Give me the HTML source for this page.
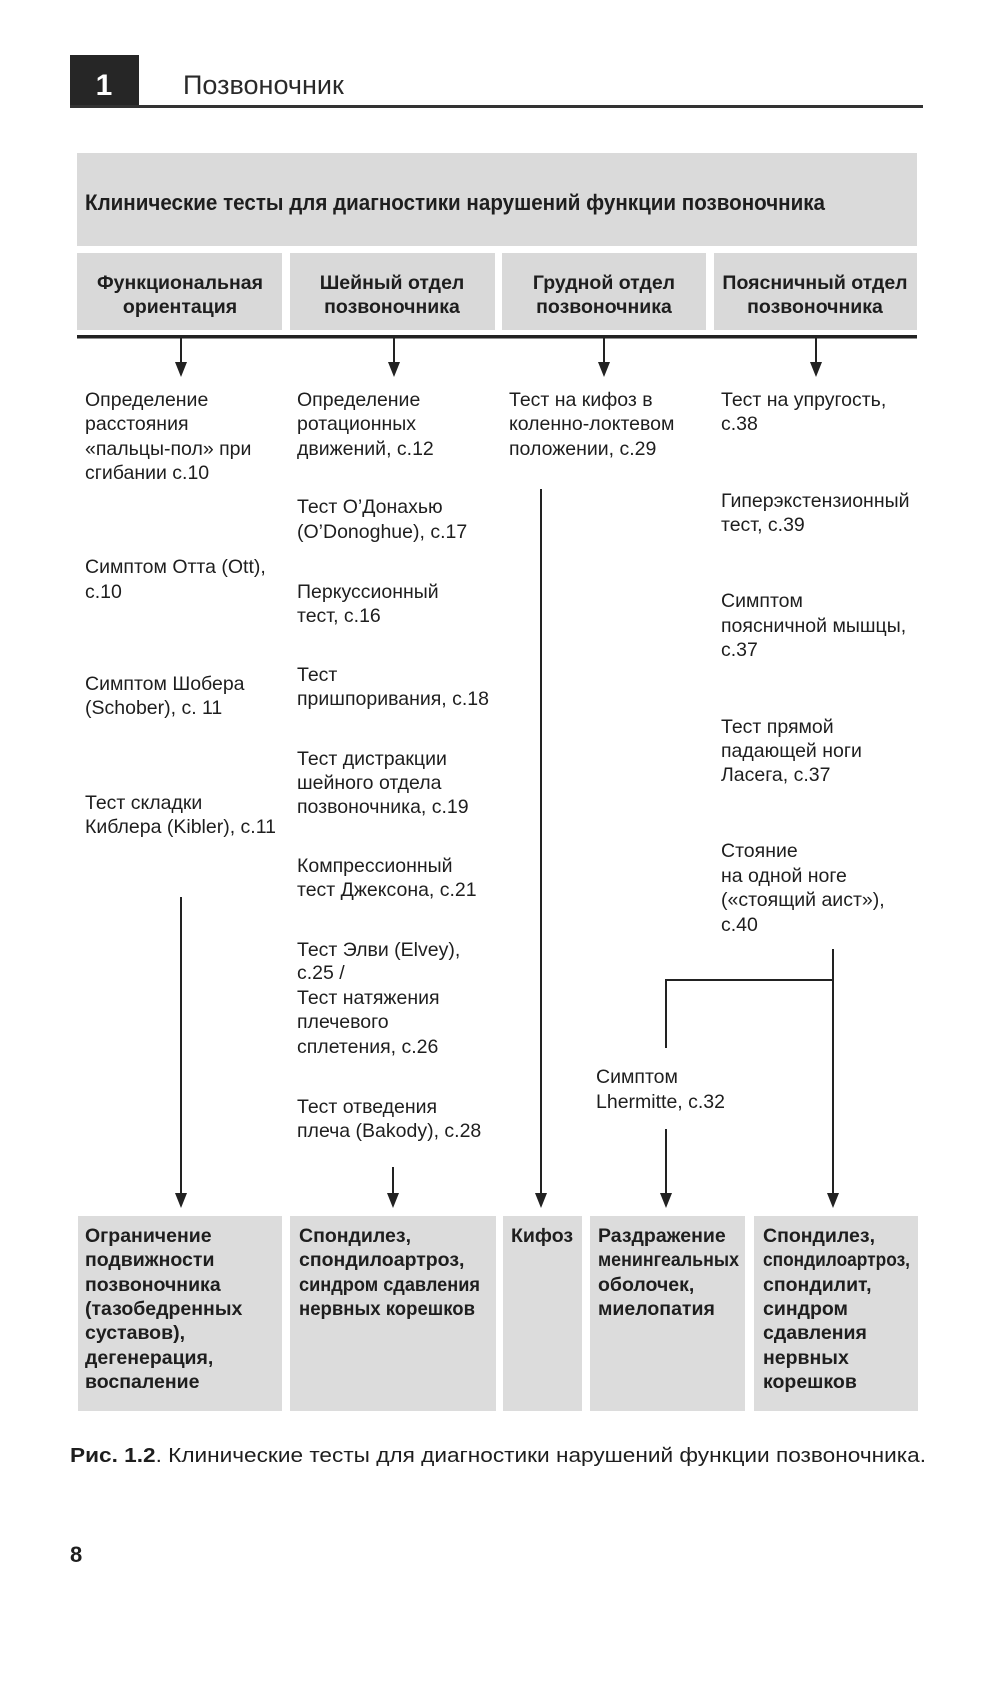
<!DOCTYPE html>
<html><head><meta charset="utf-8"><style>
html,body{margin:0;padding:0;background:#fff;}
svg{display:block;}
text{font-family:"Liberation Sans",sans-serif;fill:#1e1e1e;}
.r{font-size:19.5px;}
.b{font-size:19.5px;font-weight:bold;}
</style></head><body>
<svg width="1000" height="1691" viewBox="0 0 1000 1691" xmlns="http://www.w3.org/2000/svg">
<!-- header -->
<rect x="70" y="55" width="69" height="52" fill="#262626"/>
<text x="104" y="95" text-anchor="middle" style="font-size:30px;font-weight:bold;fill:#fff">1</text>
<text x="183" y="94" style="font-size:27px;fill:#2a2a2a">Позвоночник</text>
<rect x="70" y="105" width="853" height="3" fill="#333"/>

<!-- title band -->
<rect x="77" y="153" width="840" height="93" fill="#dadada"/>
<text x="85" y="210" class="b" style="font-size:22px" textLength="740" lengthAdjust="spacingAndGlyphs">Клинические тесты для диагностики нарушений функции позвоночника</text>

<!-- category boxes -->
<rect x="77" y="253" width="205" height="77" fill="#d9d9d9"/>
<rect x="290" y="253" width="205" height="77" fill="#d9d9d9"/>
<rect x="502" y="253" width="204" height="77" fill="#d9d9d9"/>
<rect x="714" y="253" width="203" height="77" fill="#d9d9d9"/>
<text x="180" y="289" class="b" text-anchor="middle">Функциональная</text>
<text x="180" y="313" class="b" text-anchor="middle">ориентация</text>
<text x="392" y="289" class="b" text-anchor="middle">Шейный отдел</text>
<text x="392" y="313" class="b" text-anchor="middle">позвоночника</text>
<text x="604" y="289" class="b" text-anchor="middle">Грудной отдел</text>
<text x="604" y="313" class="b" text-anchor="middle">позвоночника</text>
<text x="815" y="289" class="b" text-anchor="middle">Поясничный отдел</text>
<text x="815" y="313" class="b" text-anchor="middle">позвоночника</text>
<rect x="77" y="335" width="840" height="3.5" fill="#222"/>

<!-- connectors -->
<g stroke="#222" stroke-width="2" fill="none">
<line x1="181" y1="338" x2="181" y2="364"/>
<line x1="394" y1="338" x2="394" y2="364"/>
<line x1="604" y1="338" x2="604" y2="364"/>
<line x1="816" y1="338" x2="816" y2="364"/>
<line x1="181" y1="897" x2="181" y2="1196"/>
<line x1="393" y1="1167" x2="393" y2="1196"/>
<line x1="541" y1="489" x2="541" y2="1196"/>
<line x1="833" y1="949" x2="833" y2="1196"/>
<polyline points="833,980 666,980 666,1048"/>
<line x1="666" y1="1129" x2="666" y2="1196"/>
</g>
<g fill="#222">
<polygon points="175,362 187,362 181,377"/>
<polygon points="388,362 400,362 394,377"/>
<polygon points="598,362 610,362 604,377"/>
<polygon points="810,362 822,362 816,377"/>
<polygon points="175,1193 187,1193 181,1208"/>
<polygon points="387,1193 399,1193 393,1208"/>
<polygon points="535,1193 547,1193 541,1208"/>
<polygon points="660,1193 672,1193 666,1208"/>
<polygon points="827,1193 839,1193 833,1208"/>
</g>

<!-- column 1 -->
<g class="r">
<text x="85" y="406">Определение</text>
<text x="85" y="430">расстояния</text>
<text x="85" y="455">«пальцы-пол» при</text>
<text x="85" y="479">сгибании с.10</text>
<text x="85" y="573">Симптом Отта (Ott),</text>
<text x="85" y="598">с.10</text>
<text x="85" y="690">Симптом Шобера</text>
<text x="85" y="714">(Schober), с. 11</text>
<text x="85" y="809">Тест складки</text>
<text x="85" y="833">Киблера (Kibler), с.11</text>
</g>
<!-- column 2 -->
<g class="r">
<text x="297" y="406">Определение</text>
<text x="297" y="430">ротационных</text>
<text x="297" y="455">движений, с.12</text>
<text x="297" y="513">Тест O’Донахью</text>
<text x="297" y="538">(O’Donoghue), с.17</text>
<text x="297" y="598">Перкуссионный</text>
<text x="297" y="622">тест, с.16</text>
<text x="297" y="681">Тест</text>
<text x="297" y="705">пришпоривания, с.18</text>
<text x="297" y="765">Тест дистракции</text>
<text x="297" y="789">шейного отдела</text>
<text x="297" y="813">позвоночника, с.19</text>
<text x="297" y="872">Компрессионный</text>
<text x="297" y="896">тест Джексона, с.21</text>
<text x="297" y="956">Тест Элви (Elvey),</text>
<text x="297" y="979">с.25 /</text>
<text x="297" y="1004">Тест натяжения</text>
<text x="297" y="1028">плечевого</text>
<text x="297" y="1053">сплетения, с.26</text>
<text x="297" y="1113">Тест отведения</text>
<text x="297" y="1137">плеча (Bakody), с.28</text>
</g>
<!-- column 3 -->
<g class="r">
<text x="509" y="406">Тест на кифоз в</text>
<text x="509" y="430">коленно-локтевом</text>
<text x="509" y="455">положении, с.29</text>
<text x="596" y="1083">Симптом</text>
<text x="596" y="1108">Lhermitte, с.32</text>
</g>
<!-- column 4 -->
<g class="r">
<text x="721" y="406">Тест на упругость,</text>
<text x="721" y="430">с.38</text>
<text x="721" y="507">Гиперэкстензионный</text>
<text x="721" y="531">тест, с.39</text>
<text x="721" y="607">Симптом</text>
<text x="721" y="632">поясничной мышцы,</text>
<text x="721" y="656">с.37</text>
<text x="721" y="733">Тест прямой</text>
<text x="721" y="757">падающей ноги</text>
<text x="721" y="781">Ласега, с.37</text>
<text x="721" y="857">Стояние</text>
<text x="721" y="882">на одной ноге</text>
<text x="721" y="906">(«стоящий аист»),</text>
<text x="721" y="931">с.40</text>
</g>

<!-- bottom boxes -->
<rect x="78" y="1216" width="204" height="195" fill="#dcdcdc"/>
<rect x="290" y="1216" width="206" height="195" fill="#dcdcdc"/>
<rect x="503" y="1216" width="79" height="195" fill="#dcdcdc"/>
<rect x="590" y="1216" width="155" height="195" fill="#dcdcdc"/>
<rect x="754" y="1216" width="164" height="195" fill="#dcdcdc"/>
<g class="b">
<text x="85" y="1242">Ограничение</text>
<text x="85" y="1266">подвижности</text>
<text x="85" y="1291">позвоночника</text>
<text x="85" y="1315">(тазобедренных</text>
<text x="85" y="1339">суставов),</text>
<text x="85" y="1364">дегенерация,</text>
<text x="85" y="1388">воспаление</text>
<text x="299" y="1242">Спондилез,</text>
<text x="299" y="1266">спондилоартроз,</text>
<text x="299" y="1291" textLength="181" lengthAdjust="spacingAndGlyphs">синдром сдавления</text>
<text x="299" y="1315" textLength="176" lengthAdjust="spacingAndGlyphs">нервных корешков</text>
<text x="511" y="1242">Кифоз</text>
<text x="598" y="1242">Раздражение</text>
<text x="598" y="1266" textLength="141" lengthAdjust="spacingAndGlyphs">менингеальных</text>
<text x="598" y="1291">оболочек,</text>
<text x="598" y="1315">миелопатия</text>
<text x="763" y="1242">Спондилез,</text>
<text x="763" y="1266" textLength="147" lengthAdjust="spacingAndGlyphs">спондилоартроз,</text>
<text x="763" y="1291">спондилит,</text>
<text x="763" y="1315">синдром</text>
<text x="763" y="1339">сдавления</text>
<text x="763" y="1364">нервных</text>
<text x="763" y="1388">корешков</text>
</g>

<!-- caption -->
<text x="70" y="1462" style="font-size:20px" textLength="856" lengthAdjust="spacingAndGlyphs"><tspan font-weight="bold">Рис. 1.2</tspan>. Клинические тесты для диагностики нарушений функции позвоночника.</text>
<text x="70" y="1562" style="font-size:22px;font-weight:bold">8</text>
</svg>
</body></html>
